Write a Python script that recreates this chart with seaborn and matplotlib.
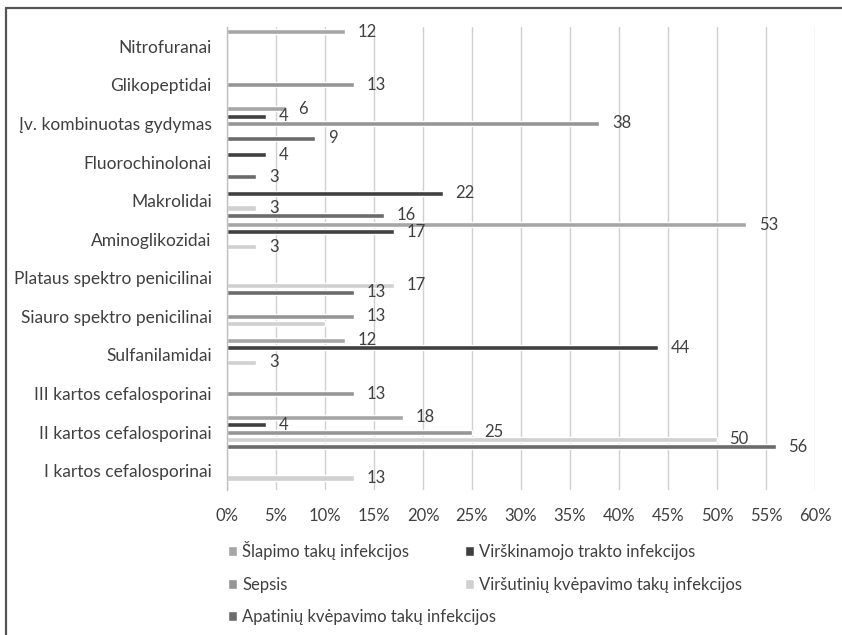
import numpy as np
import pandas as pd
import matplotlib
matplotlib.use("Agg")
import matplotlib.pyplot as plt
from matplotlib.lines import Line2D
import seaborn as sns

categories = [
    "Nitrofuranai",
    "Glikopeptidai",
    "Įv. kombinuotas gydymas",
    "Fluorochinolonai",
    "Makrolidai",
    "Aminoglikozidai",
    "Plataus spektro penicilinai",
    "Siauro spektro penicilinai",
    "Sulfanilamidai",
    "III kartos cefalosporinai",
    "II kartos cefalosporinai",
    "I kartos cefalosporinai",
]

series = [
    "Šlapimo takų infekcijos",
    "Virškinamojo trakto infekcijos",
    "Sepsis",
    "Viršutinių kvėpavimo takų infekcijos",
    "Apatinių kvėpavimo takų infekcijos",
]

nan = np.nan
slapimo = [12, nan, 6, nan, nan, 53, nan, nan, 12, nan, 18, nan]
virskinamojo = [nan, nan, 4, 4, 22, 17, nan, nan, 44, nan, 4, nan]
sepsis = [nan, 13, 38, nan, nan, nan, nan, 13, nan, 13, 25, nan]
virsutiniu = [nan, nan, nan, nan, 3, 3, 17, 10, 3, nan, 50, 13]
apatiniu = [nan, nan, 9, 3, 16, nan, 13, nan, nan, nan, 56, nan]

# bars that carry no value label
unlabelled = {("Siauro spektro penicilinai", "Viršutinių kvėpavimo takų infekcijos")}

colors = ["#a6a6a6", "#404040", "#969696", "#d0d0d0", "#6b6b6b"]
xticks = [0, 5, 10, 15, 20, 25, 30, 35, 40, 45, 50, 55, 60]

rows = []
for name, vals in zip(series, [slapimo, virskinamojo, sepsis, virsutiniu, apatiniu]):
    for cat, v in zip(categories, vals):
        if not np.isnan(v):
            rows.append({"cat": cat, "series": name, "val": v})
df = pd.DataFrame(rows)

sns.set_theme(style="white")
plt.rcParams["font.family"] = ["Lato", "DejaVu Sans"]
text_color = "#404040"

fig = plt.figure(figsize=(8.42, 6.35), dpi=100)
ax = fig.add_axes([227 / 842, 1 - 490 / 635, (815 - 227) / 842, (490 - 27) / 635])

sns.barplot(
    data=df, y="cat", x="val", hue="series",
    order=categories, hue_order=series, palette=colors,
    orient="h", width=0.95, gap=0.3, dodge=True, errorbar=None,
    saturation=1, legend=True, ax=ax,
)

ax.set_xlim(0, 60)
ax.set_ylim(len(categories) - 0.5, -0.5)
ax.set_xticks(xticks)
ax.set_xticklabels([f"{t}%" for t in xticks])
ax.set_xlabel("")
ax.set_ylabel("")
ax.tick_params(axis="both", length=0, colors=text_color)
ax.tick_params(axis="x", pad=13, labelsize=12)
ax.tick_params(axis="y", pad=11, labelsize=12.5)
ax.xaxis.grid(True, color="#cfcfcf", linewidth=1)
ax.set_axisbelow(True)
for side in ["top", "right", "bottom"]:
    ax.spines[side].set_visible(False)
ax.spines["left"].set_color("#bfbfbf")
ax.spines["left"].set_linewidth(1)

# value labels at the end of each bar
for name, container in zip(series, ax.containers):
    labels = []
    for bar in container:
        cy = bar.get_y() + bar.get_height() / 2
        cat = categories[int(round(cy))]
        w = bar.get_width()
        if (cat, name) in unlabelled or np.isnan(w):
            labels.append("")
        else:
            labels.append(f"{w:g}")
    ax.bar_label(container, labels=labels, padding=9, fontsize=12, color=text_color)

# legend in two columns: the left column holds three entries, the right two
handles, labels = ax.get_legend_handles_labels()
ax.get_legend().remove()
legend_kw = dict(
    loc="upper left", frameon=False, fontsize=12, labelcolor=text_color,
    handlelength=0.55, handleheight=0.55, handletextpad=0.3,
    labelspacing=1.0, borderaxespad=0, borderpad=0,
)
fig.legend([handles[i] for i in (0, 2, 4)], [labels[i] for i in (0, 2, 4)],
           bbox_to_anchor=(228 / 842, 1 - 541 / 635), **legend_kw)
fig.legend([handles[i] for i in (1, 3)], [labels[i] for i in (1, 3)],
           bbox_to_anchor=(465 / 842, 1 - 544 / 635), **legend_kw)

# outer frame
fig.add_artist(Line2D([6 / 842, 1], [1 - 8 / 635, 1 - 8 / 635], color="#555555", linewidth=1.6, transform=fig.transFigure))
fig.add_artist(Line2D([6 / 842, 6 / 842], [0, 1 - 8 / 635], color="#555555", linewidth=1.6, transform=fig.transFigure))

fig.savefig("out.png", dpi=100, facecolor="white")
